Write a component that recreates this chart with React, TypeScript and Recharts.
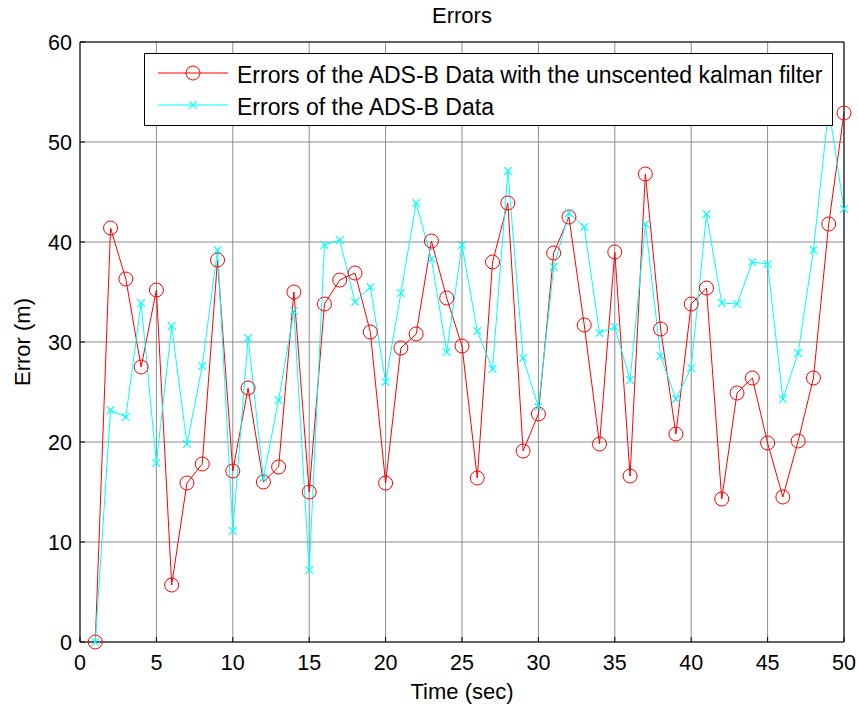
import React from 'react';
import {
  LineChart,
  Line,
  XAxis,
  YAxis,
  CartesianGrid,
  Legend
} from 'recharts';

const TIME = [
  1, 2, 3, 4, 5, 6, 7, 8, 9, 10, 11, 12, 13, 14, 15, 16, 17, 18, 19, 20, 21, 22, 23, 24, 25,
  26, 27, 28, 29, 30, 31, 32, 33, 34, 35, 36, 37, 38, 39, 40, 41, 42, 43, 44, 45, 46, 47, 48, 49, 50
];

// errors after the unscented kalman filter
const UKF_ERR = [
  0, 41.4, 36.3, 27.5, 35.2, 5.7, 15.9, 17.8, 38.2, 17.1, 25.4, 16.0, 17.5, 35.0, 15.0, 33.8, 36.2,
  36.9, 31.0, 15.9, 29.4, 30.8, 40.1, 34.4, 29.6, 16.4, 38.0, 43.9, 19.1, 22.8, 38.9, 42.5, 31.7,
  19.8, 39.0, 16.6, 46.8, 31.3, 20.8, 33.8, 35.4, 14.3, 24.9, 26.4, 19.9, 14.5, 20.1, 26.4, 41.8, 52.9
];

// raw ADS-B errors
const RAW_ERR = [
  0, 23.2, 22.5, 33.9, 17.9, 31.6, 19.8, 27.6, 39.2, 11.1, 30.4, 16.4, 24.2, 33.1, 7.2, 39.7, 40.2,
  34.0, 35.5, 26.0, 34.9, 43.9, 38.3, 29.0, 39.7, 31.1, 27.3, 47.1, 28.4, 23.5, 37.5, 42.9, 41.5,
  30.9, 31.5, 26.2, 41.8, 28.6, 24.3, 27.4, 42.8, 33.9, 33.8, 38.0, 37.8, 24.3, 28.9, 39.2, 53.4, 43.3
];

const X_TICKS = [0, 5, 10, 15, 20, 25, 30, 35, 40, 45, 50];
const Y_TICKS = [0, 10, 20, 30, 40, 50, 60];

const UKF_NAME = 'Errors of the ADS-B Data with the unscented kalman filter';
const RAW_NAME = 'Errors of the ADS-B Data';

const data = TIME.map((t, i) => ({ t, ukf: UKF_ERR[i], raw: RAW_ERR[i] }));

const FONT = '"Liberation Sans", Arial, sans-serif';
const RED = '#ff0000';
const CYAN = '#00ffff';

const CircleMark = ({ cx, cy, size = 7 }: any) => {
  if (cx == null || cy == null) return null;
  return <circle cx={cx} cy={cy} r={size} fill="none" stroke={RED} strokeWidth={1} />;
};

const CrossMark = ({ cx, cy, size = 3.8 }: any) => {
  if (cx == null || cy == null) return null;
  return (
    <g stroke={CYAN} strokeWidth={1.2}>
      <line x1={cx - size} y1={cy - size} x2={cx + size} y2={cy + size} />
      <line x1={cx - size} y1={cy + size} x2={cx + size} y2={cy - size} />
    </g>
  );
};

const YLabel = (props: any) => {
  const vb = props.viewBox || { x: 20, y: 42, width: 60, height: 600 };
  const x = vb.x + 9.5;
  const y = vb.y + vb.height / 2;
  return (
    <text
      x={x}
      y={y}
      transform={`rotate(-90 ${x} ${y})`}
      textAnchor="middle"
      fontFamily={FONT}
      fontSize={22}
      fill="#000"
    >
      Error (m)
    </text>
  );
};

const ORDER = ['ukf', 'raw'];

const renderLegend = (props: any) => {
  const items = [...(props.payload || [])].sort(
    (a: any, b: any) => ORDER.indexOf(a.dataKey) - ORDER.indexOf(b.dataKey)
  );
  return (
    <div
      style={{
        width: 689,
        height: 73,
        boxSizing: 'border-box',
        background: '#fff',
        border: '1px solid #000',
        paddingTop: 3,
        fontFamily: FONT,
        fontSize: 23
      }}
    >
      {items.map((it: any) => (
        <div key={it.dataKey} style={{ display: 'flex', alignItems: 'center', height: 32 }}>
          <svg width={92} height={32} style={{ flex: 'none' }}>
            <line x1={13} y1={16} x2={83} y2={16} stroke={it.dataKey === 'ukf' ? RED : CYAN} strokeWidth={1} />
            {it.dataKey === 'ukf' ? <CircleMark cx={48} cy={16} /> : <CrossMark cx={48} cy={16} />}
          </svg>
          <span style={{ color: '#000', whiteSpace: 'nowrap', position: 'relative', top: 2 }}>{it.value}</span>
        </div>
      ))}
    </div>
  );
};

const tickStyle = { fill: '#000', fontSize: 21.5, fontFamily: FONT };

export default function App() {
  return (
    <div style={{ position: 'absolute', left: 0, top: 0, background: '#fff' }}>
      <LineChart
        width={858}
        height={709}
        data={data}
        margin={{ top: 41, right: 13, bottom: 7, left: 20 }}
      >
        <CartesianGrid stroke="#8c8c8c" strokeWidth={1} />
        <XAxis
          dataKey="t"
          type="number"
          domain={[0, 50]}
          ticks={X_TICKS}
          interval={0}
          height={60}
          tick={tickStyle}
          tickSize={-5}
          tickMargin={18}
          stroke="#000"
          label={{
            value: 'Time (sec)',
            position: 'insideBottom',
            offset: 3,
            fill: '#000',
            fontSize: 22,
            fontFamily: FONT
          }}
        />
        <XAxis
          xAxisId="top"
          orientation="top"
          dataKey="t"
          type="number"
          domain={[0, 50]}
          ticks={X_TICKS}
          interval={0}
          height={1}
          tick={false}
          tickSize={-5}
          stroke="#000"
          label={{
            value: 'Errors',
            position: 'top',
            offset: 18,
            fill: '#000',
            fontSize: 22,
            fontFamily: FONT
          }}
        />
        <YAxis
          type="number"
          domain={[0, 60]}
          ticks={Y_TICKS}
          interval={0}
          width={60}
          tick={tickStyle}
          tickSize={-5}
          tickMargin={13}
          stroke="#000"
          label={<YLabel />}
        />
        <YAxis
          yAxisId="right"
          orientation="right"
          type="number"
          domain={[0, 60]}
          ticks={Y_TICKS}
          interval={0}
          width={1}
          tick={false}
          tickSize={-5}
          stroke="#000"
        />
        <Line
          dataKey="ukf"
          name={UKF_NAME}
          stroke={RED}
          strokeWidth={1}
          dot={(p: any) => <CircleMark key={`c${p.index}`} cx={p.cx} cy={p.cy} />}
          activeDot={false}
          isAnimationActive={false}
        />
        <Line
          dataKey="raw"
          name={RAW_NAME}
          stroke={CYAN}
          strokeWidth={1}
          dot={(p: any) => <CrossMark key={`x${p.index}`} cx={p.cx} cy={p.cy} />}
          activeDot={false}
          isAnimationActive={false}
        />
        <Legend
          layout="vertical"
          align="center"
          verticalAlign="middle"
          wrapperStyle={{ left: 144, top: 53, width: 689, height: 73 }}
          content={renderLegend}
        />
      </LineChart>
    </div>
  );
}
